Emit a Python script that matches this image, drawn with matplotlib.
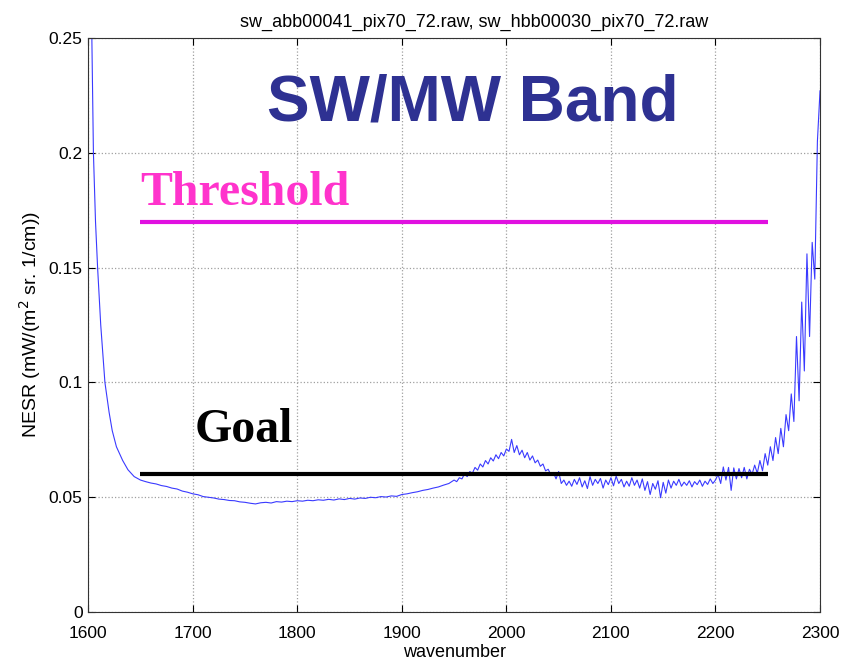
#!/usr/bin/env python3
"""NESR of the SW/MW band with threshold and goal levels."""

import numpy as np
import matplotlib

matplotlib.use("Agg")
import matplotlib.pyplot as plt

# steep rise at the low-wavenumber edge
WN_EDGE = [1600, 1602, 1603.5, 1605, 1607, 1609, 1612, 1616, 1620, 1623, 1627, 1633, 1638, 1644]
NESR_EDGE = [0.40, 0.29, 0.25, 0.20, 0.17, 0.15, 0.125, 0.100, 0.087, 0.079, 0.072, 0.066, 0.062, 0.059]

# 1650 .. 1945, every 5 cm-1 (quiet part)
WN_FLAT = np.arange(1650, 1946, 5)
NESR_FLAT = [
    0.0575, 0.0568, 0.0562, 0.0558, 0.0551, 0.0547, 0.0540, 0.0536, 0.0527, 0.0522,
    0.0515, 0.0511, 0.0503, 0.0500, 0.0497, 0.0492, 0.0490, 0.0486, 0.0485, 0.0480,
    0.0478, 0.0474, 0.0471, 0.0476, 0.0478, 0.0475, 0.0481, 0.0479, 0.0483, 0.0481,
    0.0485, 0.0483, 0.0487, 0.0485, 0.0489, 0.0487, 0.0491, 0.0488, 0.0493, 0.0490,
    0.0495, 0.0492, 0.0497, 0.0495, 0.0500, 0.0498, 0.0503, 0.0501, 0.0506, 0.0504,
    0.0512, 0.0515, 0.0520, 0.0524, 0.0530, 0.0534, 0.0540, 0.0545, 0.0553, 0.0560,
]

# 1950 .. 2300, every 2.5 cm-1 (noisy part)
WN_NOISY = np.arange(1950, 2300.1, 2.5)
NESR_NOISY = [
    0.0575, 0.0568, 0.0585, 0.0580, 0.0602, 0.0590, 0.0612, 0.0605, 0.0630, 0.0618,
    0.0645, 0.0632, 0.0660, 0.0645, 0.0672, 0.0658, 0.0685, 0.0668, 0.0695, 0.0680,
    0.0710, 0.0700, 0.0752, 0.0695, 0.0725, 0.0685, 0.0705, 0.0672, 0.0695, 0.0662,
    0.0680, 0.0650, 0.0662, 0.0635, 0.0645, 0.0615, 0.0622, 0.0598, 0.0608, 0.0580,
    0.0612, 0.0560, 0.0575, 0.0552, 0.0570, 0.0548, 0.0578, 0.0556, 0.0585, 0.0545,
    0.0572, 0.0538, 0.0590, 0.0552, 0.0578, 0.0560, 0.0582, 0.0540, 0.0575, 0.0555,
    0.0585, 0.0550, 0.0592, 0.0560, 0.0578, 0.0545, 0.0570, 0.0548, 0.0585, 0.0552,
    0.0575, 0.0540, 0.0580, 0.0530, 0.0568, 0.0512, 0.0560, 0.0535, 0.0572, 0.0498,
    0.0565, 0.0518, 0.0575, 0.0540, 0.0570, 0.0552, 0.0578, 0.0548, 0.0566, 0.0552,
    0.0572, 0.0545, 0.0568, 0.0555, 0.0575, 0.0548, 0.0570, 0.0556, 0.0580, 0.0560,
    0.0575, 0.0600, 0.0560, 0.0632, 0.0575, 0.0630, 0.0530, 0.0628, 0.0580, 0.0625,
    0.0585, 0.0630, 0.0580, 0.0622, 0.0600, 0.0640, 0.0605, 0.0660, 0.0615, 0.0690,
    0.0640, 0.0720, 0.0660, 0.0760, 0.0690, 0.0800, 0.0720, 0.0860, 0.0790, 0.0950,
    0.0830, 0.1200, 0.0920, 0.1350, 0.1050, 0.1560, 0.1200, 0.1610, 0.1450, 0.2050,
    0.2270,
]

THRESHOLD = 0.17
GOAL = 0.06
REQ_SPAN = [1650, 2250]

TITLE = "sw_abb00041_pix70_72.raw, sw_hbb00030_pix70_72.raw"


def main() -> None:
    wn = np.concatenate([WN_EDGE, WN_FLAT, WN_NOISY])
    nesr = np.concatenate([NESR_EDGE, NESR_FLAT, NESR_NOISY])

    plt.rcParams["font.family"] = ["Liberation Sans", "DejaVu Sans"]
    fig = plt.figure(figsize=(8.48, 6.61), dpi=100)
    ax = fig.add_axes([0.104, 0.074, 0.863, 0.8685])

    ax.plot(wn, nesr, color="#3a3aff", lw=0.8)
    ax.plot(REQ_SPAN, [THRESHOLD, THRESHOLD], color="#e010e0", lw=3, solid_capstyle="butt")
    ax.plot(REQ_SPAN, [GOAL, GOAL], color="black", lw=3, solid_capstyle="butt")

    ax.set_xlim(1600, 2300)
    ax.set_ylim(0, 0.25)
    ax.set_xticks(range(1600, 2301, 100))
    ax.set_yticks([0, 0.05, 0.1, 0.15, 0.2, 0.25])
    ax.set_yticklabels(["0", "0.05", "0.1", "0.15", "0.2", "0.25"])
    ax.grid(True, color="#a0a0a0", linestyle=":", lw=0.9)
    ax.tick_params(direction="in", labelsize=12.5, length=5, top=True, right=True)
    ax.tick_params(axis="x", pad=10)
    ax.tick_params(axis="y", pad=4)
    for s in ax.spines.values():
        s.set_color("#333333")

    ax.set_xlabel("wavenumber", fontsize=13, labelpad=2)
    ax.set_ylabel("NESR (mW/(m$^2$ sr. 1/cm))", fontsize=14, labelpad=4)
    ax.set_title(TITLE, fontsize=13, pad=8, x=0.528)

    ax.text(1968, 0.2215, "SW/MW Band", color="#2e3192", fontsize=46,
            fontweight="bold", ha="center", va="center")
    ax.text(1650, 0.1825, "Threshold", color="#ff33cc", fontsize=34.5,
            fontweight="bold", ha="left", va="center", family="Liberation Serif")
    ax.text(1702, 0.0795, "Goal", color="black", fontsize=34.5,
            fontweight="bold", ha="left", va="center", family="Liberation Serif")

    fig.savefig("out.png", dpi=100)
    plt.close(fig)


if __name__ == "__main__":
    main()
